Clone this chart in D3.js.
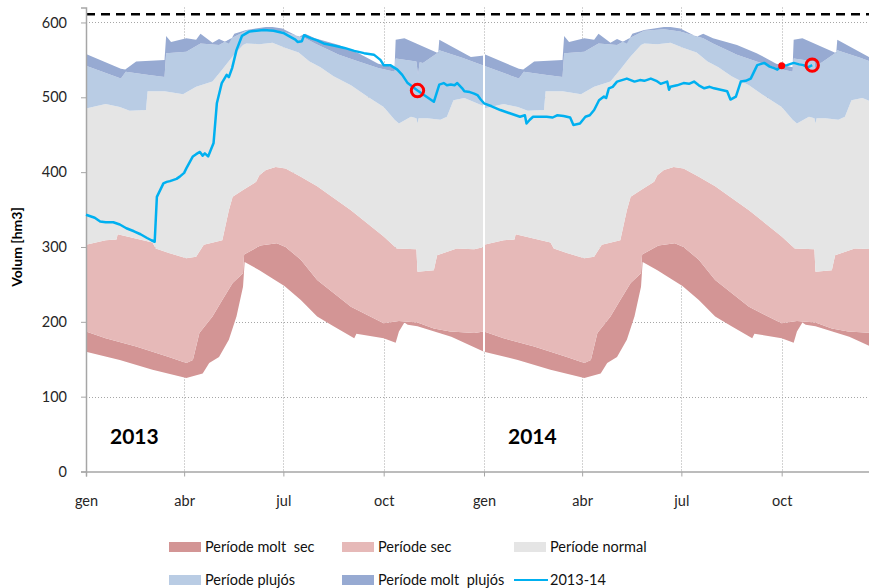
<!DOCTYPE html>
<html>
<head>
<meta charset="utf-8">
<script src="https://cdn.jsdelivr.net/npm/d3@7"></script>
<style>
  body { margin: 0; background: #fff; }
  svg { display: block; font-family: Lato, "Open Sans", sans-serif; }
</style>
</head>
<body>
<div id="chart"></div>
<script>
// band limits for one hydrological year: [day of year, volume hm3]
const minLevel = [[0,160],[31,149],[61,136],[92,125],[107,131],[113,145],[122,153],[131,176],[138,207],[144,247],[145.5,280],[159,269],[171,258],[182,248],[197,229],[212,207],[227,194],[246,178],[248,184],[273,178],[284,172],[287,187],[292,199],[295,196],[304,194],[335,180],[365,160]];
const veryDryTop = [[0,187],[18,178],[46,167],[76,153],[92,145],[98,149],[104,185],[116,207],[125,229],[134.5,252],[144,265],[145,290],[160,302],[175,305],[183,300],[197,283],[212,256],[243,220],[273,198],[287,201],[304,199],[319,191],[334,187],[356,185],[365,187]];
const dryTop = [[0,303],[18,309],[28,310],[29,317],[61,306],[64,298],[76,292],[92,285],[101,287],[108,303],[125,309],[131,349],[134.5,367],[144,376],[156,387],[159,396],[165,403],[174,407],[183,405],[197,394],[212,381],[243,349],[273,314],[285,298],[303,297],[304,267],[319,269],[322,289],[340,298],[356,297],[365,300]];
const normalTop = [[0,485],[18,491],[31,487],[40,482],[55,483],[56.5,508],[72,508],[89,504],[101,514],[116,521],[125,537],[134,554],[144,570],[147,572],[159,571],[171,573],[183,566],[195,560],[205,548],[215,540],[227,528],[243,516],[258,501],[273,487],[283,470],[287,465],[298,474],[303,472],[304,465],[305,472],[313,472],[325,470],[331,474],[337,496],[347,499],[365,488]];
const wetTop = [[0,542],[32,525],[36.5,534],[56,530],[72,527],[73.5,559],[92,561],[105,572],[122,570],[136,581],[147,589],[165,591],[180,588],[201,579],[210,572],[232,557],[250,548],[268,539],[283,534],[284,552],[303,548],[304.5,530],[306,547],[309,546],[322,559],[324,563],[345,553],[365,542]];
const maxLevel = [[0,558],[32,538],[36,537],[46,548],[72,550],[73.5,582],[78,574],[92,579],[101,577],[105,585],[116,573],[122,578],[131,572],[136,585],[147,590],[165,594],[171,594],[180,592],[195,581],[201,585],[210,579],[232,570],[250,559],[268,545],[283,540],[284,577],[292,579],[320,561],[323,559],[324,577],[353,554],[365,556]];

// reservoir volume 2013-14: [days since 1 Jan 2013, hm3]
const reservoir = [[0,343],[8,339],[13,334],[18,333],[25,333],[31,330],[37,325],[44,321],[50,317],[56,312],[60,309],[63,307],[65,367],[71,385],[74,387],[77,388],[83,391],[86,394],[90,399],[92,405],[98,421],[101,424],[104.5,427],[107,422],[109,425],[112,421],[117,439],[120,492],[124.5,519],[129,530],[131,527],[134,539],[138,563],[143,582],[150,588],[163,590],[172,589],[181,586],[187,581],[192,577],[194,574],[198,575],[200,583],[206,579],[212,576],[218,572],[228,569],[237,566],[246,562],[255,559],[264,557],[270,550],[273,543],[279,543],[285.5,537],[290,530],[295,519],[304,509],[312,501],[319,494],[324,517],[328,519],[331,516],[334.5,517],[338,516],[340.5,519],[345,512],[347,508],[352,507],[356,505],[359,503],[362,497],[365,492],[372,488],[380,483],[390,478],[398,474],[402.5,476],[404,465],[407,470],[410,474],[422.5,474],[428,473],[432,476],[438,475],[444,473],[447,463],[453,465],[458,474],[462,476],[466,483],[470.5,496],[475,501],[477,499],[479.5,512],[483,514],[487,521],[496,525],[503,521],[508,523],[512,522],[518,525],[523,522],[527,518],[533,521],[534.7,510],[536,514],[542,516],[548,519],[553,518],[557.6,521],[562,516],[567,512],[572,514],[576,512],[582,510],[588,508],[591,497],[596,501],[600.5,521],[605,522],[609.6,525],[615.6,543],[622,546],[627,541],[631,539],[634,537],[638,542],[643,543],[649,546],[654,544],[658,543],[662,540],[666,543]];
const circledPoints = [[304,509],[666,543]];
const markedPoint = [638,542];
const capacity = 611;

const monthLabels = ["gen", "abr", "jul", "oct"];
const yearLabels = ["2013", "2014"];
const yTicks = [0, 100, 200, 300, 400, 500, 600];

const bandNames = ["Període molt  sec", "Període sec", "Període normal", "Període plujós", "Període molt  plujós"];
const bandColors = ["#d39595", "#e6b9b8", "#e5e5e5", "#b9cce4", "#97aad2"];
const lineColor = "#00b0f0";

const width = 869, height = 588;
const start = new Date(2013, 0, 1);
const dayToDate = d => new Date(start.getTime() + d * 864e5);

const x = d3.scaleTime()
    .domain([start, new Date(2015, 0, 1)])
    .range([86, 882]);
const y = d3.scaleLinear()
    .domain([0, 620])
    .range([471.5, 7.5]);

const svg = d3.select("#chart").append("svg")
    .attr("width", width)
    .attr("height", height);

const quarterTicks = d3.range(0, 8).map(i => new Date(2013 + Math.floor(i / 4), (i % 4) * 3, 1));

// grid
const grid = svg.append("g")
    .attr("stroke", "#a6a6a6")
    .attr("stroke-width", 1)
    .attr("stroke-dasharray", "1,2");
grid.selectAll("line.h")
    .data(yTicks.slice(1))
    .join("line")
    .attr("x1", 86).attr("x2", 882)
    .attr("y1", d => Math.round(y(d)) + 0.5)
    .attr("y2", d => Math.round(y(d)) + 0.5);
grid.selectAll("line.v")
    .data(quarterTicks.slice(1))
    .join("line")
    .attr("x1", d => Math.round(x(d)) + 0.5)
    .attr("x2", d => Math.round(x(d)) + 0.5)
    .attr("y1", y(620)).attr("y2", y(0));

// bands, same envelope for both years
const limits = [minLevel, veryDryTop, dryTop, normalTop, wetTop, maxLevel];
const bandGroup = svg.append("g");
[0, 365].forEach(offset => {
    const line = d3.line()
        .x(d => x(dayToDate(d[0] + offset)))
        .y(d => y(d[1]));
    bandNames.forEach((name, i) => {
        const lower = limits[i], upper = limits[i + 1];
        bandGroup.append("path")
            .attr("d", line(upper.concat(lower.slice().reverse())) + "Z")
            .attr("fill", bandColors[i]);
    });
});

// white seam between the two years
svg.append("line")
    .attr("x1", x(new Date(2014, 0, 1))).attr("x2", x(new Date(2014, 0, 1)))
    .attr("y1", y(maxLevel[0][1])).attr("y2", y(minLevel[0][1]))
    .attr("stroke", "#fff")
    .attr("stroke-width", 2);

// capacity
svg.append("line")
    .attr("x1", 86).attr("x2", 882)
    .attr("y1", y(capacity)).attr("y2", y(capacity))
    .attr("stroke", "#000")
    .attr("stroke-width", 2.5)
    .attr("stroke-dasharray", "9,6");

// axes
const yAxis = svg.append("g")
    .attr("transform", "translate(86,0)")
    .call(d3.axisLeft(y).tickValues(yTicks).tickSize(5).tickPadding(14));
const xAxis = svg.append("g")
    .attr("transform", `translate(0,${y(0)})`)
    .call(d3.axisBottom(x).tickValues(quarterTicks).tickSize(5).tickPadding(19)
        .tickFormat(d => monthLabels[d.getMonth() / 3]));
[yAxis, xAxis].forEach(ax => {
    ax.select(".domain").attr("stroke", "#a6a6a6").attr("stroke-width", 1.5);
    ax.selectAll(".tick line").attr("stroke", "#a6a6a6");
    ax.selectAll("text")
        .attr("font-size", 14.5)
        .attr("fill", "#262626")
        .attr("font-family", "Lato, 'Open Sans', sans-serif");
});

svg.append("text")
    .attr("transform", "translate(22,247) rotate(-90)")
    .attr("text-anchor", "middle")
    .attr("font-size", 14)
    .attr("font-weight", "bold")
    .attr("fill", "#000")
    .text("Volum [hm3]");

// reservoir line
svg.append("path")
    .datum(reservoir)
    .attr("fill", "none")
    .attr("stroke", lineColor)
    .attr("stroke-width", 2.5)
    .attr("stroke-linejoin", "round")
    .attr("d", d3.line()
        .x(d => x(dayToDate(d[0])))
        .y(d => y(d[1])));

svg.selectAll("circle.hl")
    .data(circledPoints)
    .join("circle")
    .attr("cx", d => x(dayToDate(d[0])))
    .attr("cy", d => y(d[1]))
    .attr("r", 6.2)
    .attr("fill", "none")
    .attr("stroke", "#ff0000")
    .attr("stroke-width", 3);

svg.append("circle")
    .attr("cx", x(dayToDate(markedPoint[0])))
    .attr("cy", y(markedPoint[1]))
    .attr("r", 3.5)
    .attr("fill", "#ff0000");

// year labels
svg.selectAll("text.year")
    .data(yearLabels)
    .join("text")
    .attr("x", (d, i) => x(new Date(2013 + i, 0, 23)))
    .attr("y", 444)
    .attr("font-size", 21)
    .attr("font-weight", "bold")
    .attr("fill", "#000")
    .text(d => d);

// legend
const legendItems = bandNames.map((n, i) => ({ name: n, color: bandColors[i], type: "rect" }))
    .concat([{ name: "2013-14", color: lineColor, type: "line" }]);
const legend = svg.append("g");
legendItems.forEach((d, i) => {
    const col = i % 3, row = Math.floor(i / 3);
    const lx = [169, 342, 514][col], ly = [547, 580][row];
    const g = legend.append("g").attr("transform", `translate(${lx},${ly})`);
    if (d.type === "rect") {
        g.append("rect").attr("x", 0).attr("y", -5).attr("width", 32).attr("height", 10).attr("fill", d.color);
    } else {
        g.append("line").attr("x1", 0).attr("x2", 34).attr("y1", 0).attr("y2", 0)
            .attr("stroke", d.color).attr("stroke-width", 2);
    }
    g.append("text")
        .attr("x", 36)
        .attr("y", 0)
        .attr("dy", "0.35em")
        .attr("font-size", 14.5)
        .attr("fill", "#111")
        .style("white-space", "pre")
        .text(d.name);
});
</script>
</body>
</html>
